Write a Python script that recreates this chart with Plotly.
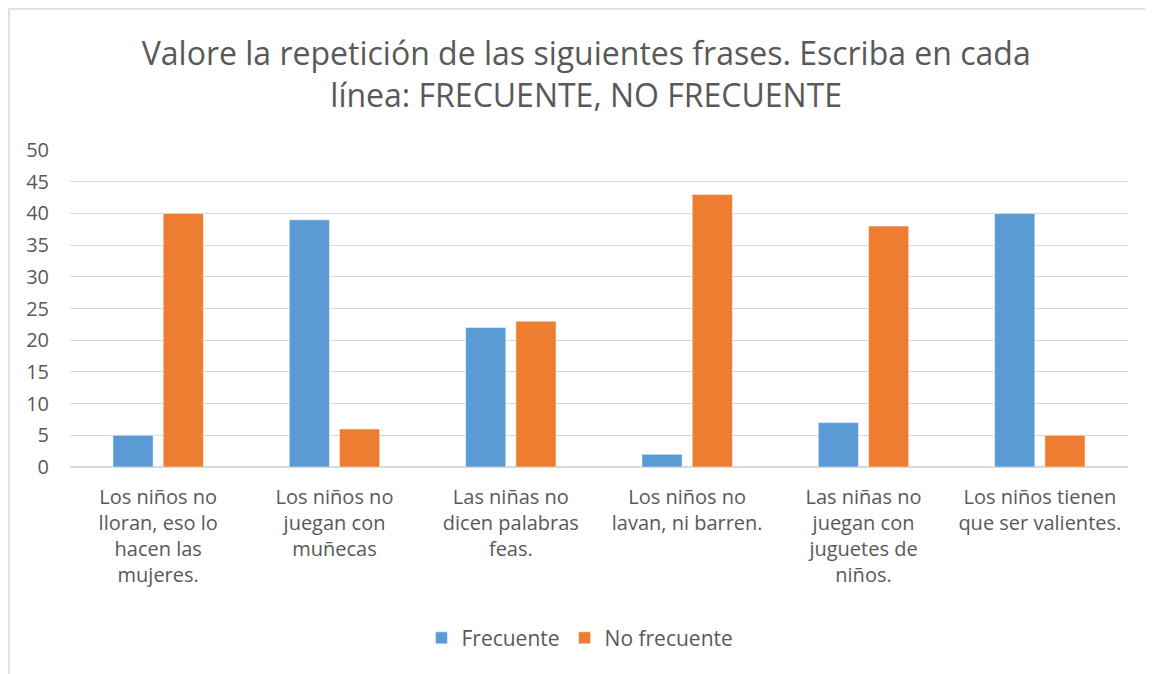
import plotly.graph_objects as go

# datos
categorias = [
    "Los niños no<br>lloran, eso lo<br>hacen las<br>mujeres.",
    "Los niños no<br>juegan con<br>muñecas",
    "Las niñas no<br>dicen palabras<br>feas.",
    "Los niños no<br>lavan, ni barren.",
    "Las niñas no<br>juegan con<br>juguetes de<br>niños.",
    "Los niños tienen<br>que ser valientes.",
]
frecuente = [5, 39, 22, 2, 7, 40]
no_frecuente = [40, 6, 23, 43, 38, 5]

GRIS = "#595959"
FUENTE = "Open Sans"
# la página tiene 8px de margen en el body, se compensa en el tamaño
ANCHO, ALTO = 1145, 666

fig = go.Figure()
fig.add_trace(go.Bar(x=categorias, y=frecuente, name="Frecuente",
                     marker=dict(color="#5B9BD5", line=dict(color="white", width=0.5))))
fig.add_trace(go.Bar(x=categorias, y=no_frecuente, name="No frecuente",
                     marker=dict(color="#ED7D31", line=dict(color="white", width=0.5))))

fig.update_layout(
    width=ANCHO, height=ALTO,
    margin=dict(l=62, r=25, t=142, b=207),
    paper_bgcolor="white", plot_bgcolor="white",
    font=dict(family=FUENTE, color=GRIS, size=20),
    title=dict(text="Valore la repetición de las siguientes frases. Escriba en cada<br>línea: FRECUENTE, NO FRECUENTE",
               x=0.505, xanchor="center", y=1 - 57 / ALTO, yanchor="middle",
               font=dict(family=FUENTE, size=32, color=GRIS)),
    barmode="group", bargap=0.43, bargroupgap=0.2,
    legend=dict(orientation="h", x=0.482, xanchor="center", y=-0.54, yanchor="middle",
                font=dict(size=21, color=GRIS), itemwidth=30),
    showlegend=True,
)
fig.update_yaxes(range=[0, 50], dtick=5, showgrid=True, gridcolor="#D9D9D9", gridwidth=1,
                 zeroline=True, zerolinecolor="#D9D9D9", showline=False, ticks="",
                 ticklabelstandoff=20, tickfont=dict(size=20, color=GRIS))
fig.update_xaxes(showline=False, ticks="", tickangle=0, ticklabelstandoff=16,
                 tickfont=dict(size=20, color=GRIS))

# borde del área del gráfico (solo arriba e izquierda visibles)
fig.add_shape(type="rect", xref="paper", yref="paper",
              x0=-61 / 1058, x1=1.2, y0=-1.0, y1=(459 - 1) / 317,
              line=dict(color="#D9D9D9", width=1.5), fillcolor="rgba(0,0,0,0)", layer="below")

fig.write_html("out.html")
